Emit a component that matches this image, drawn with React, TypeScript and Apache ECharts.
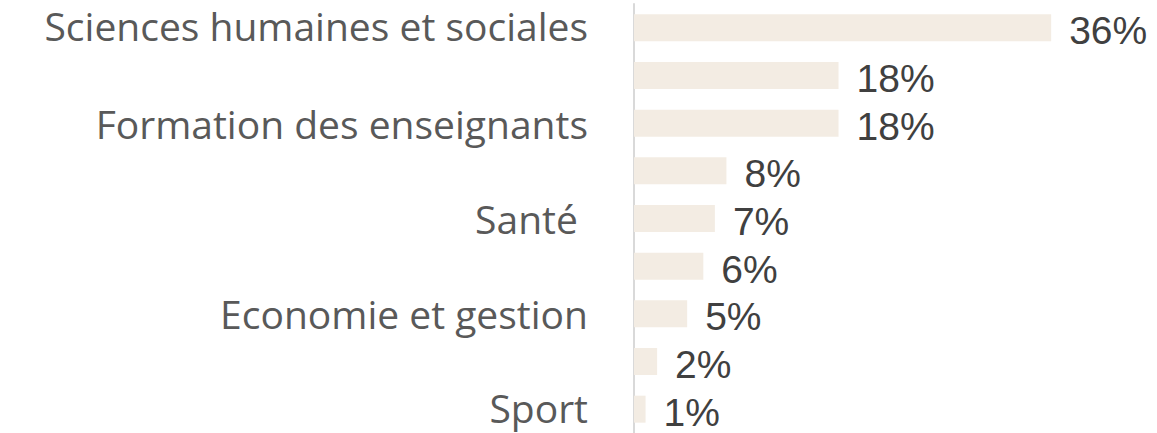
import React, { useEffect, useRef } from "react";
import * as echarts from "echarts";

const categories = [
  "Sciences humaines et sociales",
  "Lettres et langues",
  "Formation des enseignants",
  "Sciences et technologies",
  "Santé ",
  "Droit",
  "Economie et gestion",
  "Arts",
  "Sport",
];
const values = [36.1, 17.7, 17.7, 8.0, 7.0, 6.0, 4.6, 2.0, 1.0];

export default function App() {
  const ref = useRef<HTMLDivElement>(null);
  useEffect(() => {
    if (!ref.current) return;
    const chart = echarts.init(ref.current, null, { renderer: "svg" });
    const labelStyle = { fontFamily: "Open Sans", fontSize: 39, lineHeight: 36, color: "#595959" };
    chart.setOption({
      animation: false,
      grid: { left: 634, top: 4, width: 520, height: 432, containLabel: false },
      xAxis: { type: "value", min: 0, max: 45, show: false },
      yAxis: {
        type: "category",
        data: categories,
        inverse: true,
        axisLine: { show: true, lineStyle: { color: "#D9D9D9", width: 2 } },
        axisTick: { show: false },
        splitLine: { show: false },
        axisLabel: {
          interval: 1,
          margin: 46,
          ...labelStyle,
          formatter: (v: string, i: number) =>
            i === 0 ? `{top|${v}}` : i === categories.length - 1 ? `{bot|${v}}` : v,
          rich: {
            top: { ...labelStyle, padding: [0, 0, 5, 0] },
            bot: { ...labelStyle, padding: [0, 0, 4, 0] },
          },
        },
      },
      series: [
        {
          type: "bar",
          data: values,
          barWidth: 27,
          itemStyle: { color: "#F3ECE3" },
          label: {
            show: true,
            position: "right",
            distance: 18,
            offset: [0, 3],
            fontFamily: "Liberation Sans",
            fontSize: 39,
            lineHeight: 36,
            color: "#404040",
            formatter: (p: any) => Math.round(p.value) + "%",
          },
        },
      ],
    });
    return () => chart.dispose();
  }, []);
  return (
    <div
      ref={ref}
      style={{ position: "absolute", left: 0, top: 0, width: 1157, height: 433 }}
    />
  );
}
